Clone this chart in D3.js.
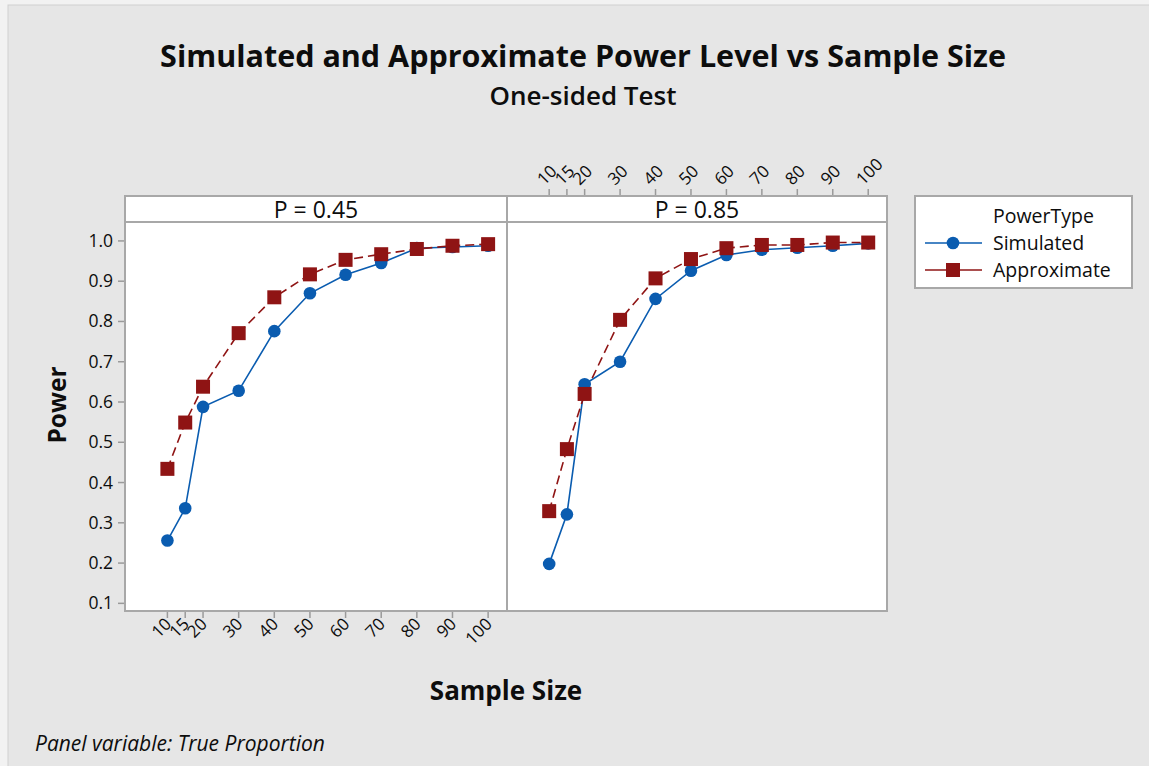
<!DOCTYPE html>
<html lang="en">
<head>
    <meta charset="UTF-8">
    <title>Simulated and Approximate Power Level vs Sample Size</title>
    <script src="https://d3js.org/d3.v7.min.js"></script>
    <style>
        body { margin: 0; background: #f2f2f2; }
        svg text { font-family: "Open Sans", "Noto Sans", sans-serif; fill: #0d0d0d; }
        .frame { fill: #ffffff; stroke: #a8a8a8; stroke-width: 2; }
        .tick-line { stroke: #9a9a9a; stroke-width: 1.5; }
        .sim-line { fill: none; stroke: #0a5cb0; stroke-width: 1.6; }
        .approx-line { fill: none; stroke: #8f1414; stroke-width: 1.6; stroke-dasharray: 9 5; }
    </style>
</head>
<body>
    <svg id="chart" width="1149" height="766"></svg>

    <script>
        // data
        const sampleSizes = [10, 15, 20, 30, 40, 50, 60, 70, 80, 90, 100];
        const panelLabels = ['P = 0.45', 'P = 0.85'];
        const simulated045 = [0.256, 0.336, 0.588, 0.628, 0.776, 0.870, 0.916, 0.945, 0.982, 0.985, 0.988];
        const approximate045 = [0.434, 0.549, 0.638, 0.771, 0.860, 0.917, 0.953, 0.967, 0.980, 0.988, 0.992];
        const simulated085 = [0.198, 0.321, 0.644, 0.700, 0.856, 0.926, 0.965, 0.978, 0.983, 0.988, 0.994];
        const approximate085 = [0.329, 0.483, 0.620, 0.804, 0.907, 0.955, 0.982, 0.990, 0.990, 0.996, 0.996];
        const powerTicks = [0.1, 0.2, 0.3, 0.4, 0.5, 0.6, 0.7, 0.8, 0.9, 1.0];
        const seriesNames = ['Simulated', 'Approximate'];

        const blue = '#0a5cb0';
        const red = '#8f1414';

        const svg = d3.select('#chart');

        // grey background
        svg.append('rect')
            .attr('x', 8).attr('y', 5)
            .attr('width', 1149).attr('height', 766)
            .attr('fill', '#e6e6e6')
            .attr('stroke', '#cfcfcf');

        // titles
        svg.append('text')
            .attr('x', 583).attr('y', 67)
            .attr('text-anchor', 'middle')
            .attr('font-size', 30.5)
            .attr('font-weight', 700)
            .text('Simulated and Approximate Power Level vs Sample Size');

        svg.append('text')
            .attr('x', 583).attr('y', 105)
            .attr('text-anchor', 'middle')
            .attr('font-size', 26)
            .attr('font-weight', 600)
            .text('One-sided Test');

        const plotTop = 222, plotBottom = 611, stripTop = 196;
        const panels = [
            { x0: 125, x1: 507, label: panelLabels[0], sim: simulated045, approx: approximate045 },
            { x0: 507, x1: 887, label: panelLabels[1], sim: simulated085, approx: approximate085 }
        ];

        const y = d3.scaleLinear().domain([0.081, 1.047]).range([plotBottom, plotTop]);

        panels.forEach((p, i) => {
            const x = d3.scaleLinear().domain([-1.9, 105.3]).range([p.x0, p.x1]);

            // strip
            svg.append('rect').attr('class', 'frame')
                .attr('x', p.x0).attr('y', stripTop)
                .attr('width', p.x1 - p.x0).attr('height', plotTop - stripTop);
            svg.append('text')
                .attr('x', (p.x0 + p.x1) / 2).attr('y', plotTop - 4)
                .attr('text-anchor', 'middle')
                .attr('font-size', 23)
                .text(p.label);

            // plot area
            svg.append('rect').attr('class', 'frame')
                .attr('x', p.x0).attr('y', plotTop)
                .attr('width', p.x1 - p.x0).attr('height', plotBottom - plotTop);

            // x ticks: bottom for first panel, top for second
            const g = svg.append('g');
            sampleSizes.forEach(s => {
                const tx = x(s);
                if (i === 0) {
                    g.append('line').attr('class', 'tick-line')
                        .attr('x1', tx).attr('x2', tx)
                        .attr('y1', plotBottom + 1).attr('y2', plotBottom + 7);
                    g.append('text')
                        .attr('transform', `translate(${tx + 5},${plotBottom + 14}) rotate(-45)`)
                        .attr('text-anchor', 'end')
                        .attr('font-size', 17)
                        .text(s);
                } else {
                    g.append('line').attr('class', 'tick-line')
                        .attr('x1', tx).attr('x2', tx)
                        .attr('y1', stripTop - 1).attr('y2', stripTop - 7);
                    g.append('text')
                        .attr('transform', `translate(${tx - 5},${stripTop - 10}) rotate(-45)`)
                        .attr('text-anchor', 'start')
                        .attr('font-size', 17)
                        .text(s);
                }
            });

            const line = d3.line()
                .x((d, k) => x(sampleSizes[k]))
                .y(d => y(d));

            svg.append('path').datum(p.sim)
                .attr('class', 'sim-line')
                .attr('d', line);
            svg.append('path').datum(p.approx)
                .attr('class', 'approx-line')
                .attr('d', line);

            svg.selectAll(null).data(p.sim).enter().append('circle')
                .attr('cx', (d, k) => x(sampleSizes[k]))
                .attr('cy', d => y(d))
                .attr('r', 6.3)
                .attr('fill', blue);

            svg.selectAll(null).data(p.approx).enter().append('rect')
                .attr('x', (d, k) => x(sampleSizes[k]) - 7)
                .attr('y', d => y(d) - 7)
                .attr('width', 14).attr('height', 14)
                .attr('fill', red);
        });

        // y axis
        powerTicks.forEach(t => {
            svg.append('line').attr('class', 'tick-line')
                .attr('x1', 118).attr('x2', 124)
                .attr('y1', y(t)).attr('y2', y(t));
            svg.append('text')
                .attr('x', 113).attr('y', y(t) + 6)
                .attr('text-anchor', 'end')
                .attr('font-size', 17.5)
                .text(t.toFixed(1));
        });

        // axis titles
        svg.append('text')
            .attr('transform', 'translate(66,405) rotate(-90)')
            .attr('text-anchor', 'middle')
            .attr('font-size', 24.5)
            .attr('font-weight', 700)
            .text('Power');

        svg.append('text')
            .attr('x', 506).attr('y', 700)
            .attr('text-anchor', 'middle')
            .attr('font-size', 26)
            .attr('font-weight', 700)
            .text('Sample Size');

        svg.append('text')
            .attr('x', 35).attr('y', 751)
            .attr('font-size', 21)
            .attr('font-style', 'italic')
            .text('Panel variable: True Proportion');

        // legend
        const legend = svg.append('g');
        legend.append('rect')
            .attr('x', 915).attr('y', 196)
            .attr('width', 217).attr('height', 92)
            .attr('fill', '#ffffff')
            .attr('stroke', '#a8a8a8')
            .attr('stroke-width', 2);
        legend.append('text')
            .attr('x', 993).attr('y', 223)
            .attr('font-size', 19.5)
            .text('PowerType');

        seriesNames.forEach((name, k) => {
            const ly = 243 + k * 27;
            const col = k === 0 ? blue : red;
            legend.append('line')
                .attr('x1', 925).attr('x2', 982)
                .attr('y1', ly).attr('y2', ly)
                .attr('stroke', col).attr('stroke-width', 1.6);
            if (k === 0) {
                legend.append('circle').attr('cx', 953).attr('cy', ly).attr('r', 6.3).attr('fill', col);
            } else {
                legend.append('rect').attr('x', 946).attr('y', ly - 7).attr('width', 14).attr('height', 14).attr('fill', col);
            }
            legend.append('text')
                .attr('x', 993).attr('y', ly + 7)
                .attr('font-size', 19.5)
                .text(name);
        });
    </script>
</body>
</html>
